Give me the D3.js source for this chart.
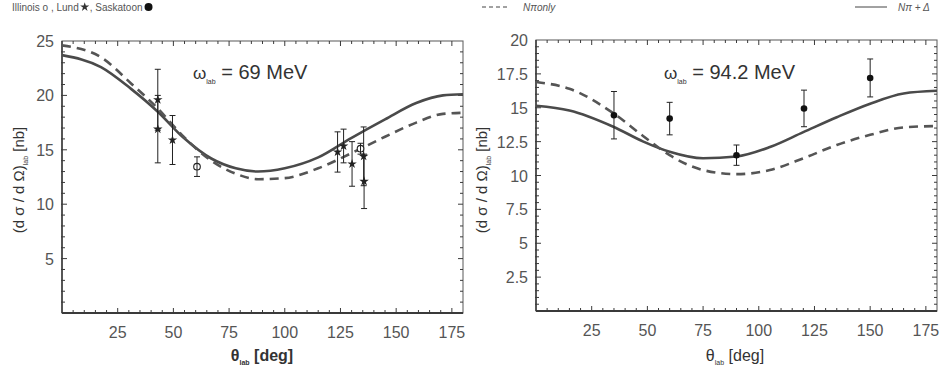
<!DOCTYPE html>
<html><head><meta charset="utf-8">
<script src="https://cdn.jsdelivr.net/npm/d3@7"></script>
<style>body{margin:0;background:#fff}svg{display:block}text{font-family:"Liberation Sans",Arial,sans-serif}</style>
</head><body><svg id="c" width="944" height="371"></svg>
<script>
// ---------- data ----------
const xTicks = [25, 50, 75, 100, 125, 150, 175];
const yTicks69 = [5, 10, 15, 20, 25];
const yTicks94 = [2.5, 5, 7.5, 10, 12.5, 15, 17.5, 20];

// 69 MeV theory curves
const theta69Full = [0, 17.5, 31, 43, 54.6, 67, 78, 88, 100, 115, 130, 145, 159, 171, 180];
const full69 =      [23.7, 22.6, 20.6, 18.5, 16.1, 14.2, 13.3, 13.0, 13.3, 14.3, 16.1, 17.8, 19.3, 20.0, 20.1];
const theta69Npi =  [0, 17.5, 31, 43, 54.6, 67, 78, 88, 100, 115, 130, 145, 159, 171, 180];
const npi69 =       [24.6, 23.5, 21.1, 18.8, 16.2, 14.0, 12.8, 12.3, 12.4, 13.3, 14.7, 16.2, 17.5, 18.3, 18.4];

// 69 MeV data
const lund69Theta = [43, 43, 49.6, 123.7, 126.4, 130.2, 135.4, 135.6];
const lund69Val =   [19.6, 16.9, 15.9, 14.8, 15.35, 13.7, 14.4, 12.1];
const lund69Err =   [2.8, 3.1, 2.25, 1.85, 1.55, 2.05, 2.7, 2.5];
const ill69Theta =  [60.6, 134];
const ill69Val =    [13.45, 15.1];
const ill69Err =    [0.9, 0.5];

// 94.2 MeV theory curves
const theta94 = [0, 15, 34.7, 48.2, 60, 75, 90, 105, 120, 135, 150, 165, 180];
const full94 =  [15.15, 14.8, 13.6, 12.5, 11.75, 11.27, 11.4, 12.1, 13.2, 14.3, 15.3, 16.05, 16.25];
const npi94 =   [16.9, 16.4, 14.6, 12.9, 11.5, 10.4, 10.1, 10.4, 11.27, 12.25, 13.0, 13.55, 13.65];

// 94.2 MeV data (Saskatoon)
const sask94Theta = [35, 60, 90, 120.3, 150];
const sask94Val =   [14.45, 14.2, 11.5, 14.95, 17.2];
const sask94Err =   [1.75, 1.2, 0.75, 1.35, 1.4];

// ---------- drawing ----------
const svg = d3.select("#c");
const ink = "#3a3a3a", lab = "#555";

function panel(o) {
  const x = d3.scaleLinear().domain([0, 180]).range(o.xr);
  const y = d3.scaleLinear().domain(o.yd).range(o.yr);
  const g = svg.append("g");
  const [x0, x1] = o.xr, [y0, y1] = o.yr;

  g.append("rect").attr("x", x0).attr("y", y1).attr("width", x1 - x0).attr("height", y0 - y1)
    .attr("fill", "none").attr("stroke", "#666").attr("stroke-width", 1.1);
  g.append("line").attr("x1", x0).attr("x2", x1).attr("y1", y0).attr("y2", y0).attr("stroke", ink).attr("stroke-width", 2);
  g.append("line").attr("x1", x0).attr("x2", x0).attr("y1", y0).attr("y2", y1).attr("stroke", ink).attr("stroke-width", 1.5);

  d3.range(5, 180, 5).forEach(t => {
    const L = (t % 25 === 0) ? 5 : 3;
    g.append("line").attr("x1", x(t)).attr("x2", x(t)).attr("y1", y0 + 1).attr("y2", y0 - L).attr("stroke", ink).attr("stroke-width", 1);
    g.append("line").attr("x1", x(t)).attr("x2", x(t)).attr("y1", y1).attr("y2", y1 + L).attr("stroke", ink).attr("stroke-width", 1);
  });
  d3.range(o.yd[0] + o.ystep, o.yd[1], o.ystep).forEach(v => {
    const major = o.yt.some(t => Math.abs(t - v) < 1e-6);
    const L = major ? 5 : 3;
    g.append("line").attr("x1", x0 - 1).attr("x2", x0 + L).attr("y1", y(v)).attr("y2", y(v)).attr("stroke", ink).attr("stroke-width", 1);
    g.append("line").attr("x1", x1).attr("x2", x1 - L).attr("y1", y(v)).attr("y2", y(v)).attr("stroke", ink).attr("stroke-width", 1);
  });

  g.selectAll(".xl").data(xTicks).enter().append("text")
    .attr("x", d => x(d)).attr("y", y0 + 25).attr("text-anchor", "middle")
    .attr("font-size", 16).attr("fill", lab).text(d => d);
  g.selectAll(".yl").data(o.yt).enter().append("text")
    .attr("x", x0 - 8).attr("y", d => y(d) + 6).attr("text-anchor", "end")
    .attr("font-size", 16).attr("fill", lab).text(d => d);

  const xt = g.append("text").attr("x", o.xtx).attr("y", 361).attr("text-anchor", "middle")
    .attr("font-size", 16).attr("fill", "#333").attr("font-weight", o.bold ? "bold" : "normal");
  xt.append("tspan").text("θ");
  xt.append("tspan").attr("font-size", 7).attr("dy", 4).text("lab");
  xt.append("tspan").attr("dy", -4).text(" [deg]");

  const yt = g.append("text").attr("transform", `translate(${o.ytx},${o.yty}) rotate(-90)`)
    .attr("text-anchor", "middle").attr("font-size", 15).attr("fill", "#333");
  yt.append("tspan").text("(d σ / d Ω)");
  yt.append("tspan").attr("font-size", 7).attr("dy", 4).text("lab");
  yt.append("tspan").attr("dy", -4).text(" [nb]");

  const an = g.append("text").attr("x", o.anx).attr("y", 79).attr("font-size", 20).attr("fill", "#333");
  an.append("tspan").attr("font-size", 17).text("ω");
  an.append("tspan").attr("font-size", 7).attr("dy", 5).text("lab");
  an.append("tspan").attr("dy", -5).text(" = " + o.label);

  const ln = (xs) => d3.line().x((d, i) => x(xs[i])).y(d => y(d)).curve(d3.curveMonotoneX);
  g.append("path").attr("d", ln(o.tf)(o.full)).attr("fill", "none").attr("stroke", "#4a4a4a").attr("stroke-width", 2.6);
  g.append("path").attr("d", ln(o.tn)(o.npi)).attr("fill", "none").attr("stroke", "#555").attr("stroke-width", 2.6)
    .attr("stroke-dasharray", "9,6");

  function points(th, val, err, kind) {
    th.forEach((t, i) => {
      const cx = x(t), lo = y(val[i] - err[i]), hi = y(val[i] + err[i]);
      g.append("line").attr("x1", cx).attr("x2", cx).attr("y1", lo).attr("y2", hi).attr("stroke", "#222").attr("stroke-width", 1);
      [lo, hi].forEach(yy => g.append("line").attr("x1", cx - 3).attr("x2", cx + 3).attr("y1", yy).attr("y2", yy).attr("stroke", "#222").attr("stroke-width", 1));
      const cy = y(val[i]);
      if (kind === "open") {
        g.append("circle").attr("cx", cx).attr("cy", cy).attr("r", 3.3).attr("fill", "#fff").attr("stroke", "#222").attr("stroke-width", 1.1);
        g.append("line").attr("x1", cx).attr("x2", cx).attr("y1", cy - 3.3).attr("y2", cy + 3.3).attr("stroke", "#222").attr("stroke-width", 1);
      } else if (kind === "star") {
        g.append("path").attr("transform", `translate(${cx},${cy})`).attr("d", d3.symbol(d3.symbolStar, 28)()).attr("fill", "#222");
      } else {
        g.append("circle").attr("cx", cx).attr("cy", cy).attr("r", 3.3).attr("fill", "#111");
      }
    });
  }
  o.pts.forEach(p => points(...p));
}

panel({
  xr: [62, 463], yr: [313, 41], yd: [0, 25], yt: yTicks69, ystep: 1,
  xtx: 262, ytx: 24, yty: 180, anx: 193, label: "69 MeV", bold: true,
  tf: theta69Full, full: full69, tn: theta69Npi, npi: npi69,
  pts: [[lund69Theta, lund69Val, lund69Err, "star"], [ill69Theta, ill69Val, ill69Err, "open"]]
});
panel({
  xr: [536, 937], yr: [311, 40], yd: [0, 20], yt: yTicks94, ystep: 0.5,
  xtx: 735, ytx: 487, yty: 180, anx: 664, label: "94.2 MeV", bold: false,
  tf: theta94, full: full94, tn: theta94, npi: npi94,
  pts: [[sask94Theta, sask94Val, sask94Err, "filled"]]
});

// ---------- legend ----------
const lg = svg.append("g").attr("font-size", 10).attr("fill", "#555");
let t1 = lg.append("text").attr("x", 12).attr("y", 11).text("Illinois o , Lund");
let xx = 12 + t1.node().getComputedTextLength() + 6;
lg.append("path").attr("transform", `translate(${xx},7)`).attr("d", d3.symbol(d3.symbolStar, 26)()).attr("fill", "#333");
let t2 = lg.append("text").attr("x", xx + 5).attr("y", 11).text(" , Saskatoon");
xx = xx + 5 + t2.node().getComputedTextLength() + 6;
lg.append("circle").attr("cx", xx).attr("cy", 7).attr("r", 4).attr("fill", "#111");

lg.append("line").attr("x1", 482).attr("x2", 508).attr("y1", 7).attr("y2", 7).attr("stroke", "#444").attr("stroke-width", 1).attr("stroke-dasharray", "4,3");
lg.append("text").attr("x", 523).attr("y", 11).attr("font-style", "italic").text("Nπonly");
lg.append("line").attr("x1", 855).attr("x2", 887).attr("y1", 7).attr("y2", 7).attr("stroke", "#444").attr("stroke-width", 1);
lg.append("text").attr("x", 898).attr("y", 11).attr("font-style", "italic").text("Nπ + Δ");
</script></body></html>
